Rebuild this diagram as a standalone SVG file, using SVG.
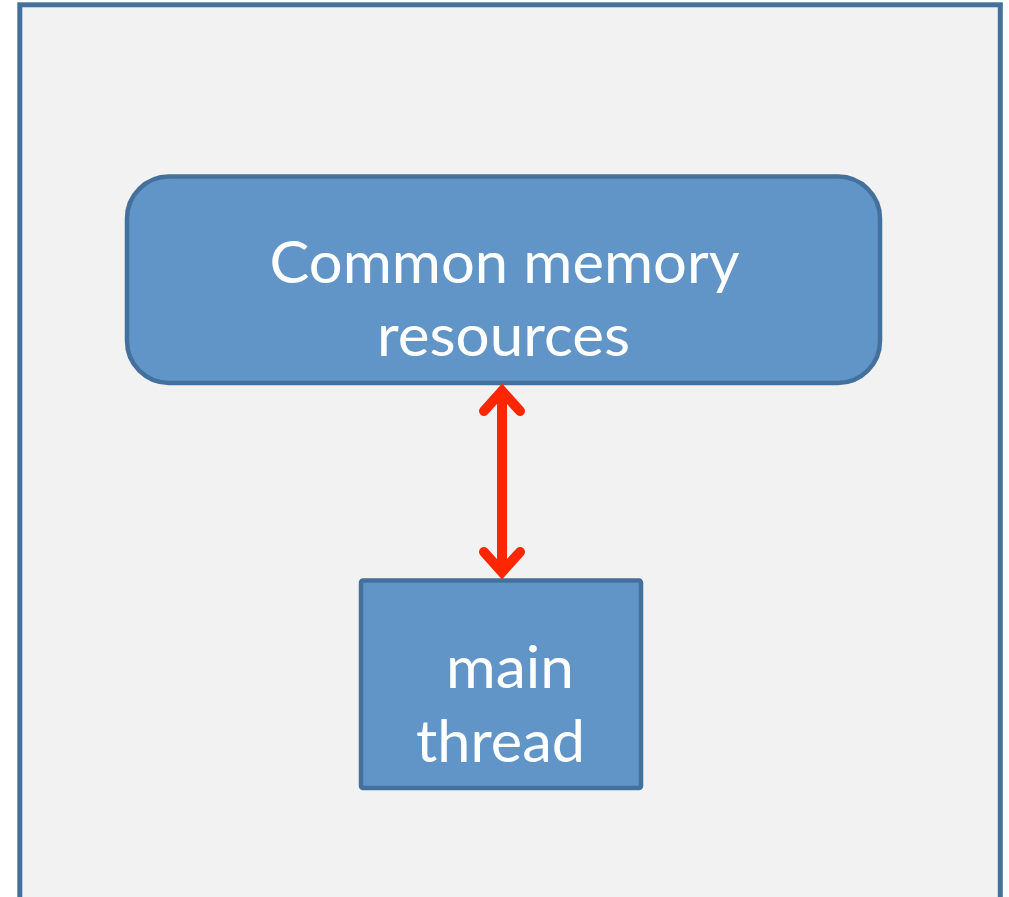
<svg xmlns="http://www.w3.org/2000/svg" width="1009" height="897" viewBox="0 0 1009 897">
  <style>
    .frame { fill: #f2f2f2; stroke: #44719c; stroke-width: 5; }
    .node { fill: #6195c8; stroke: #44719c; stroke-width: 4.5; }
    .label { font-family: Lato, "Open Sans", "Liberation Sans", sans-serif; font-size: 58px; fill: #ffffff; text-anchor: middle; }
    .conn { fill: none; stroke: #ff2600; stroke-width: 10; stroke-linecap: round; stroke-linejoin: miter; stroke-miterlimit: 10; }
  </style>
  <rect width="1009" height="897" fill="#ffffff"/>
  <g id="frame">
    <rect class="frame" x="19.8" y="4.8" width="980.5" height="920"/>
  </g>
  <g id="common-memory">
    <rect class="node" x="127" y="176.5" width="753" height="206.5" rx="42" ry="42"/>
    <text class="label" x="504.5" y="283" textLength="470" lengthAdjust="spacingAndGlyphs">Common memory</text>
    <text class="label" x="503.5" y="356" textLength="253" lengthAdjust="spacingAndGlyphs">resources</text>
  </g>
  <g id="main-thread">
    <rect class="node" x="361" y="580.5" width="280" height="207.5" rx="2" ry="2"/>
    <text class="label" x="510" y="688" textLength="128" lengthAdjust="spacingAndGlyphs">main</text>
    <text class="label" x="500.5" y="762" textLength="169" lengthAdjust="spacingAndGlyphs">thread</text>
  </g>
  <g id="connectors">
    <path class="conn" d="M502,392 L502,571"/>
    <path class="conn" d="M484,411 L502,391 L520,411"/>
    <path class="conn" d="M484,552 L502,572 L520,552"/>
  </g>
</svg>
